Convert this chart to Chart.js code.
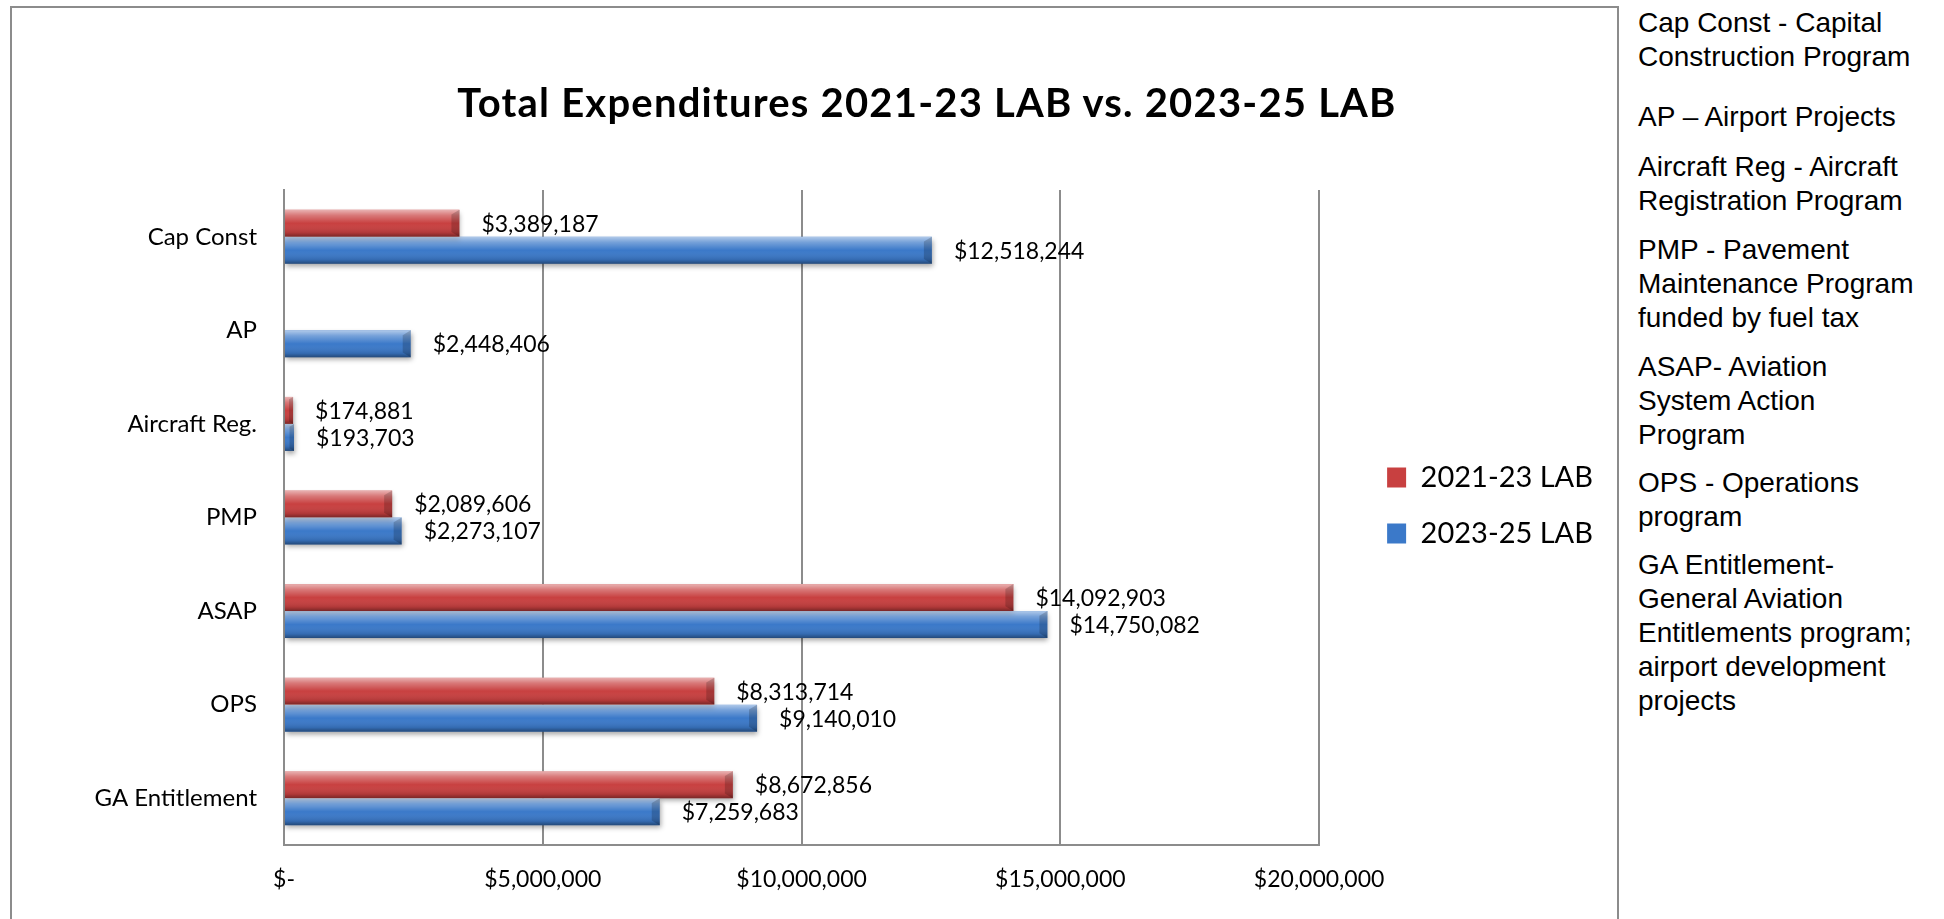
<!DOCTYPE html>
<html>
<head>
<meta charset="utf-8">
<script src="https://cdn.jsdelivr.net/npm/chart.js@4"></script>
<style>
    body { margin: 0; background: #fff; width: 1944px; height: 919px; overflow: hidden; position: relative; font-family: 'Lato', sans-serif; }
    #frame { position: absolute; left: 10px; top: 6px; width: 1605px; height: 940px; border: 2px solid #8c8c8c; border-bottom: none; }
    #chart { position: absolute; left: 0; top: 0; }
    #title { position: absolute; left: 927px; top: 78px; transform: translateX(-50%); white-space: nowrap; font: bold 40px Lato, sans-serif; letter-spacing: 1.2px; color: #000; }
    .note { position: absolute; left: 1638px; font: 28px 'Liberation Sans', Arial, sans-serif; line-height: 34px; color: #000; white-space: nowrap; }
</style>
</head>
<body>
<div id="frame"></div>
<canvas id="chart" width="1617" height="919"></canvas>
<div id="title">Total Expenditures 2021-23 LAB vs. 2023-25 LAB</div>
<div class="note" style="top:6px">Cap Const - Capital<br>Construction Program</div>
<div class="note" style="top:100px">AP – Airport Projects</div>
<div class="note" style="top:150px">Aircraft Reg - Aircraft<br>Registration Program</div>
<div class="note" style="top:233px">PMP - Pavement<br>Maintenance Program<br>funded by fuel tax</div>
<div class="note" style="top:350px">ASAP- Aviation<br>System Action<br>Program</div>
<div class="note" style="top:466px">OPS - Operations<br>program</div>
<div class="note" style="top:548px">GA Entitlement-<br>General Aviation<br>Entitlements program;<br>airport development<br>projects</div>

<script>
const categories = ['Cap Const', 'AP', 'Aircraft Reg.', 'PMP', 'ASAP', 'OPS', 'GA Entitlement'];
const seriesNames = ['2021-23 LAB', '2023-25 LAB'];
const lab2021 = [3389187, null, 174881, 2089606, 14092903, 8313714, 8672856];
const lab2023 = [12518244, 2448406, 193703, 2273107, 14750082, 9140010, 7259683];
const xTicks = [0, 5000000, 10000000, 15000000, 20000000];

const RED = '#c84040';
const BLUE = '#3b79c9';

function money(v) {
    if (v === 0) return '$-';
    return '$' + v.toLocaleString('en-US');
}

// bevel shading, shadow and value labels for the bars
const barLook = {
    id: 'barLook',
    beforeDatasetsDraw(chart) {
        const ctx = chart.ctx;
        ctx.save();
        ctx.shadowColor = 'rgba(0,0,0,0.35)';
        ctx.shadowBlur = 5;
        ctx.shadowOffsetX = 1;
        ctx.shadowOffsetY = 3;
    },
    afterDatasetsDraw(chart) {
        const ctx = chart.ctx;
        ctx.restore();
        const bars = [];
        chart.data.datasets.forEach((ds, i) => {
            chart.getDatasetMeta(i).data.forEach((bar, j) => {
                if (ds.data[j] == null) return;
                bars.push({ bar: bar, value: ds.data[j] });
            });
        });
        bars.forEach(({ bar }) => {
            const top = bar.y - bar.height / 2;
            const bottom = bar.y + bar.height / 2;
            const w = bar.x - bar.base;
            const g = ctx.createLinearGradient(0, top, 0, bottom);
            g.addColorStop(0, 'rgba(255,255,255,0.6)');
            g.addColorStop(0.2, 'rgba(255,255,255,0.3)');
            g.addColorStop(0.5, 'rgba(255,255,255,0)');
            g.addColorStop(0.85, 'rgba(0,0,0,0.12)');
            g.addColorStop(1, 'rgba(0,0,0,0.4)');
            ctx.fillStyle = g;
            ctx.fillRect(bar.base, top, w, bar.height);
            const b = Math.min(8, w / 2);
            ctx.fillStyle = 'rgba(0,0,0,0.18)';
            ctx.beginPath();
            ctx.moveTo(bar.x - b, top + b * 0.6);
            ctx.lineTo(bar.x, top);
            ctx.lineTo(bar.x, bottom);
            ctx.lineTo(bar.x - b, bottom - b * 0.6);
            ctx.closePath();
            ctx.fill();
        });
        ctx.fillStyle = '#000';
        ctx.font = '23px Lato';
        ctx.textBaseline = 'middle';
        ctx.textAlign = 'left';
        bars.forEach(({ bar, value }) => {
            ctx.fillText(money(value), bar.x + 22, bar.y + 1);
        });
    }
};

// put the legend where the original has it
const legendSpot = {
    id: 'legendSpot',
    afterLayout(chart) {
        const lg = chart.legend;
        const dx = 41, dy = -12;
        lg.left += dx; lg.right += dx;
        lg.top += dy; lg.bottom += dy;
    }
};

function draw() {
    Chart.defaults.font.family = 'Lato';
    Chart.defaults.color = '#000';
    new Chart(document.getElementById('chart'), {
        type: 'bar',
        data: {
            labels: categories,
            datasets: [
                { label: seriesNames[0], data: lab2021, backgroundColor: RED, borderWidth: 0 },
                { label: seriesNames[1], data: lab2023, backgroundColor: BLUE, borderWidth: 0 }
            ]
        },
        options: {
            indexAxis: 'y',
            responsive: false,
            animation: false,
            devicePixelRatio: 1,
            categoryPercentage: 0.577,
            barPercentage: 1,
            layout: { padding: { top: 190, right: 55, bottom: 0, left: 0 } },
            scales: {
                x: {
                    min: 0,
                    max: 20000000,
                    afterBuildTicks: (s) => { s.ticks = xTicks.map(v => ({ value: v })); },
                    afterFit: (s) => { s.height = 74; },
                    ticks: { callback: (v) => money(v), font: { size: 23 }, padding: 21, maxRotation: 0 },
                    grid: { color: '#8c8c8c', lineWidth: 2, drawTicks: false },
                    border: { display: true, color: '#8c8c8c', width: 2 }
                },
                y: {
                    afterFit: (s) => { s.width = 284; },
                    ticks: { font: { size: 24 }, padding: 27 },
                    grid: { display: false, drawTicks: false },
                    border: { display: true, color: '#8c8c8c', width: 2 }
                }
            },
            plugins: {
                title: { display: false },
                tooltip: { enabled: false },
                legend: {
                    position: 'right',
                    fullSize: false,
                    labels: { font: { size: 29 }, boxWidth: 19, boxHeight: 20, padding: 27, color: '#000' }
                }
            }
        },
        plugins: [barLook, legendSpot]
    });
}

Promise.all([
    document.fonts.load('23px Lato'),
    document.fonts.load('bold 40px Lato'),
    document.fonts.load('28px "Liberation Sans"')
]).then(draw, draw);
</script>
</body>
</html>
